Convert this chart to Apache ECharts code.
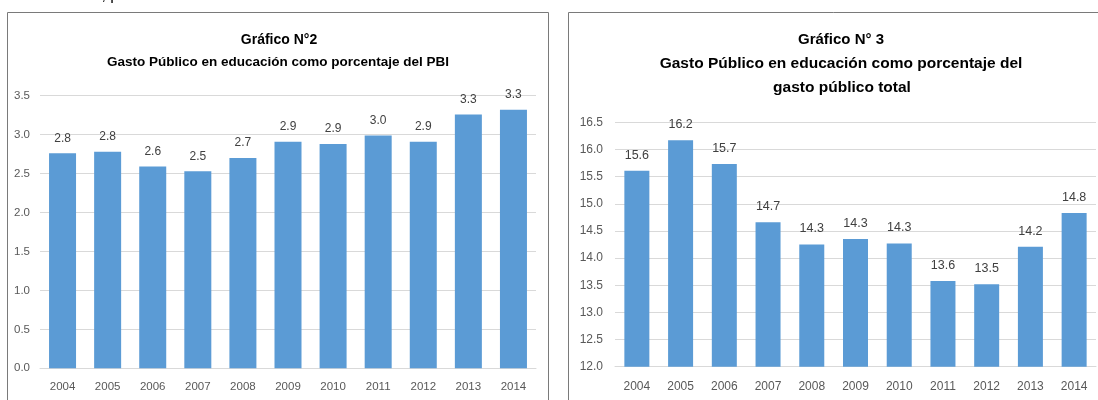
<!DOCTYPE html>
<html>
<head>
<meta charset="utf-8">
<script src="https://cdn.jsdelivr.net/npm/echarts@6/dist/echarts.min.js"></script>
<style>
  html, body { margin: 0; padding: 0; background: #fff; }
  #chart { width: 1098px; height: 400px; }
</style>
</head>
<body>
<div id="chart"></div>
<script>
// años
const years = ['2004', '2005', '2006', '2007', '2008', '2009', '2010', '2011', '2012', '2013', '2014']
// Gráfico N°2: gasto en educación, % del PBI
const pbiValues = [2.76, 2.78, 2.59, 2.53, 2.70, 2.91, 2.88, 2.99, 2.91, 3.26, 3.32]
// Gráfico N°3: gasto en educación, % del gasto público total
const gastoValues = [15.61, 16.17, 15.73, 14.66, 14.25, 14.35, 14.27, 13.58, 13.52, 14.21, 14.83]
const pbiTicks = ['0.0', '0.5', '1.0', '1.5', '2.0', '2.5', '3.0', '3.5']
const gastoTicks = ['12.0', '12.5', '13.0', '13.5', '14.0', '14.5', '15.0', '15.5', '16.0', '16.5']

const font = '"Liberation Sans", Arial, sans-serif'
const barColor = '#5b9bd5'
const gridColor = '#d9d9d9'
const textColor = '#595959'

const chart = echarts.init(document.getElementById('chart'))

const titleText = (text, x, y, size) => ({
  type: 'text',
  x: x,
  y: y,
  style: {
    text: text,
    fill: '#000',
    font: 'bold ' + size + 'px ' + font,
    textAlign: 'center',
    textVerticalAlign: 'middle'
  }
})

const makeX = (gridIndex, size, margin) => ({
  type: 'category',
  gridIndex: gridIndex,
  data: years,
  axisLine: { lineStyle: { color: gridColor, width: 1 } },
  axisTick: { show: false },
  axisLabel: { color: textColor, fontFamily: font, fontSize: size, margin: margin }
})

const makeY = (gridIndex, ticks, size, margin) => ({
  type: 'value',
  gridIndex: gridIndex,
  min: Number(ticks[0]),
  max: Number(ticks[ticks.length - 1]),
  interval: 0.5,
  axisLine: { show: false },
  axisTick: { show: false },
  axisLabel: {
    color: textColor,
    fontFamily: font,
    fontSize: size,
    margin: margin,
    formatter: (v) => v.toFixed(1)
  },
  splitLine: { lineStyle: { color: gridColor, width: 1 } }
})

const makeSeries = (idx, values, width, size) => ({
  type: 'bar',
  xAxisIndex: idx,
  yAxisIndex: idx,
  data: values,
  barWidth: width,
  itemStyle: { color: barColor },
  label: {
    show: true,
    position: 'top',
    distance: 9,
    color: '#404040',
    fontFamily: font,
    fontSize: size,
    formatter: (p) => p.value.toFixed(1)
  }
})

const option = {
  animation: false,
  grid: [
    { left: 40, right: 562, top: 95.7, bottom: 31.7 },
    { left: 615, right: 2, top: 122.3, bottom: 33.3 }
  ],
  xAxis: [
    makeX(0, 11.5, 13),
    makeX(1, 12, 14)
  ],
  yAxis: [
    makeY(0, pbiTicks, 11.5, 10),
    makeY(1, gastoTicks, 12, 12)
  ],
  series: [
    makeSeries(0, pbiValues, 27, 12),
    makeSeries(1, gastoValues, 25, 12.5)
  ],
  graphic: [
    {
      type: 'rect',
      shape: { x: 7.5, y: 12.5, width: 541, height: 400 },
      style: { fill: 'none', stroke: '#7a7a7a', lineWidth: 1 }
    },
    {
      type: 'rect',
      shape: { x: 568.5, y: 12.5, width: 600, height: 400 },
      style: { fill: 'none', stroke: '#7a7a7a', lineWidth: 1 }
    },
    {
      type: 'text',
      x: 97,
      y: 4,
      style: { text: '., p', fill: '#000', font: '16px ' + font, textVerticalAlign: 'bottom' }
    },
    titleText('Gráfico N°2', 279, 40, 14),
    titleText('Gasto Público en educación como porcentaje del PBI', 278, 62, 13.5),
    titleText('Gráfico N° 3', 841, 40, 15),
    titleText('Gasto Público en educación como porcentaje del', 841, 64, 15.5),
    titleText('gasto público total', 842, 88, 15.5)
  ]
}

chart.setOption(option)
</script>
</body>
</html>
